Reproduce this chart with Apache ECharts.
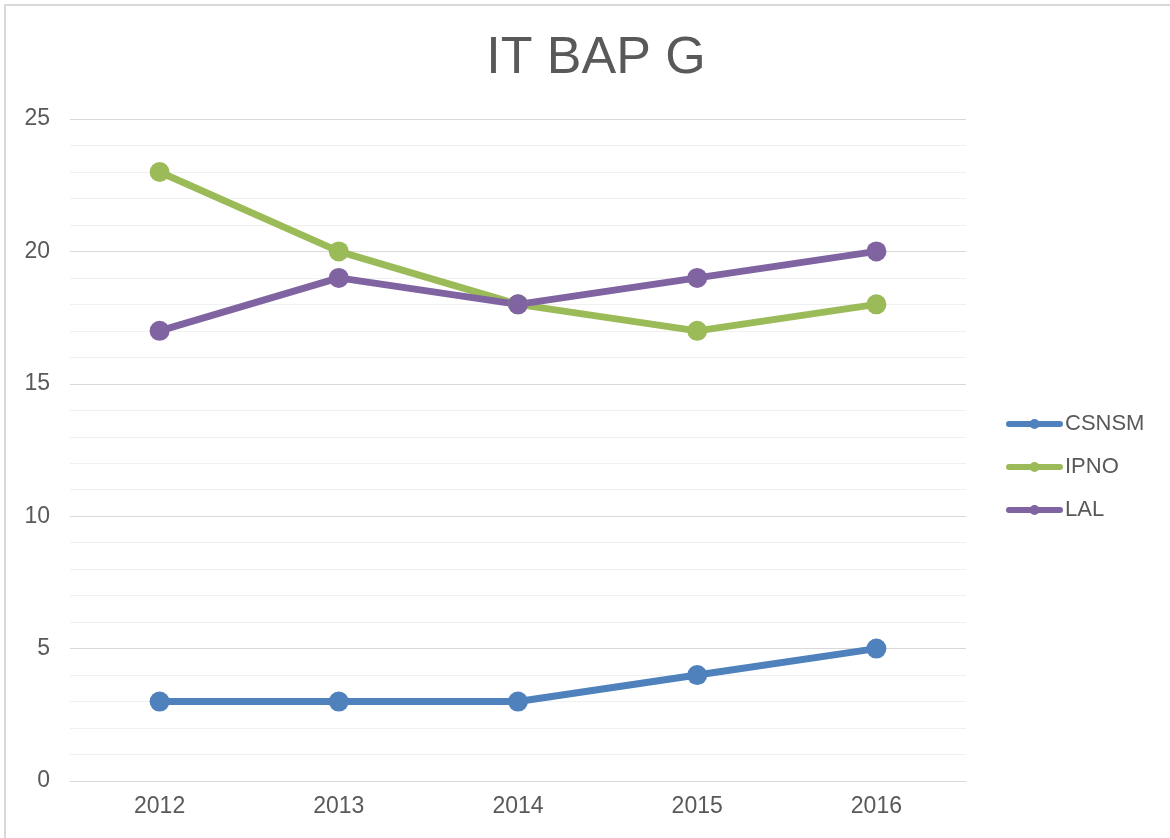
<!DOCTYPE html>
<html>
<head>
<meta charset="utf-8">
<script src="https://cdn.jsdelivr.net/npm/echarts@6/dist/echarts.min.js"></script>
<style>
  html, body { margin: 0; padding: 0; background: #fff; }
  #frame { position: absolute; left: 4px; top: 4px; width: 1180px; height: 850px; border: 2px solid #d9d9d9; box-sizing: border-box; }
  #main { position: absolute; left: 0; top: 0; width: 1170px; height: 838px; }
</style>
</head>
<body>
<div id="frame"></div>
<div id="main"></div>
<script>
// valeurs
const years = ["2012", "2013", "2014", "2015", "2016"];
const csnsm = [3, 3, 3, 4, 5];
const ipno = [23, 20, 18, 17, 18];
const lal = [17, 19, 18, 19, 20];

const colors = ["#4f81bd", "#9bbb59", "#8064a2"];
const font = "Arial, Liberation Sans";
// icône de légende : trait épais + petit rond
const legendIcon = "path://M3,3 L54,3 A3,3 0 0 1 54,9 L3,9 A3,3 0 0 1 3,3 Z M23.5,6 A5,5 0 1 1 33.5,6 A5,5 0 1 1 23.5,6 Z";

function lineSerie(name, data, color) {
  return {
    name: name,
    type: "line",
    data: data,
    symbol: "circle",
    symbolSize: 20,
    lineStyle: { width: 7, color: color },
    itemStyle: { color: color },
  };
}

const myChart = echarts.init(document.getElementById("main"));
const option = {
  animation: false,
  color: colors,
  title: {
    text: "IT BAP G",
    left: 591,
    top: 28,
    textAlign: "center",
    textStyle: { fontFamily: font, fontSize: 52, fontWeight: "normal", color: "#595959" },
  },
  legend: {
    orient: "vertical",
    left: 1001,
    top: 408,
    itemGap: 21,
    itemWidth: 57,
    itemHeight: 10,
    textStyle: { fontFamily: font, fontSize: 22, color: "#595959", padding: [0, 0, 0, -3] },
    data: [
      { name: "CSNSM", icon: legendIcon },
      { name: "IPNO", icon: legendIcon },
      { name: "LAL", icon: legendIcon },
    ],
  },
  grid: { left: 70, right: 204, top: 119, bottom: 57, containLabel: false },
  xAxis: {
    type: "category",
    data: years,
    boundaryGap: true,
    axisLine: { show: true, lineStyle: { color: "#d9d9d9", width: 1 } },
    axisTick: { show: false },
    axisLabel: { fontFamily: font, fontSize: 23, color: "#595959", margin: 14 },
  },
  yAxis: {
    type: "value",
    min: 0,
    max: 25,
    interval: 5,
    axisLine: { show: false },
    axisTick: { show: false },
    axisLabel: { fontFamily: font, fontSize: 23, color: "#595959", margin: 20 },
    splitLine: { lineStyle: { color: "#d9d9d9", width: 1 } },
    minorTick: { show: false, splitNumber: 5 },
    minorSplitLine: { show: true, lineStyle: { color: "#f0f0f0", width: 1 } },
  },
  series: [
    lineSerie("CSNSM", csnsm, colors[0]),
    lineSerie("IPNO", ipno, colors[1]),
    lineSerie("LAL", lal, colors[2]),
  ],
};
myChart.setOption(option);
</script>
</body>
</html>
